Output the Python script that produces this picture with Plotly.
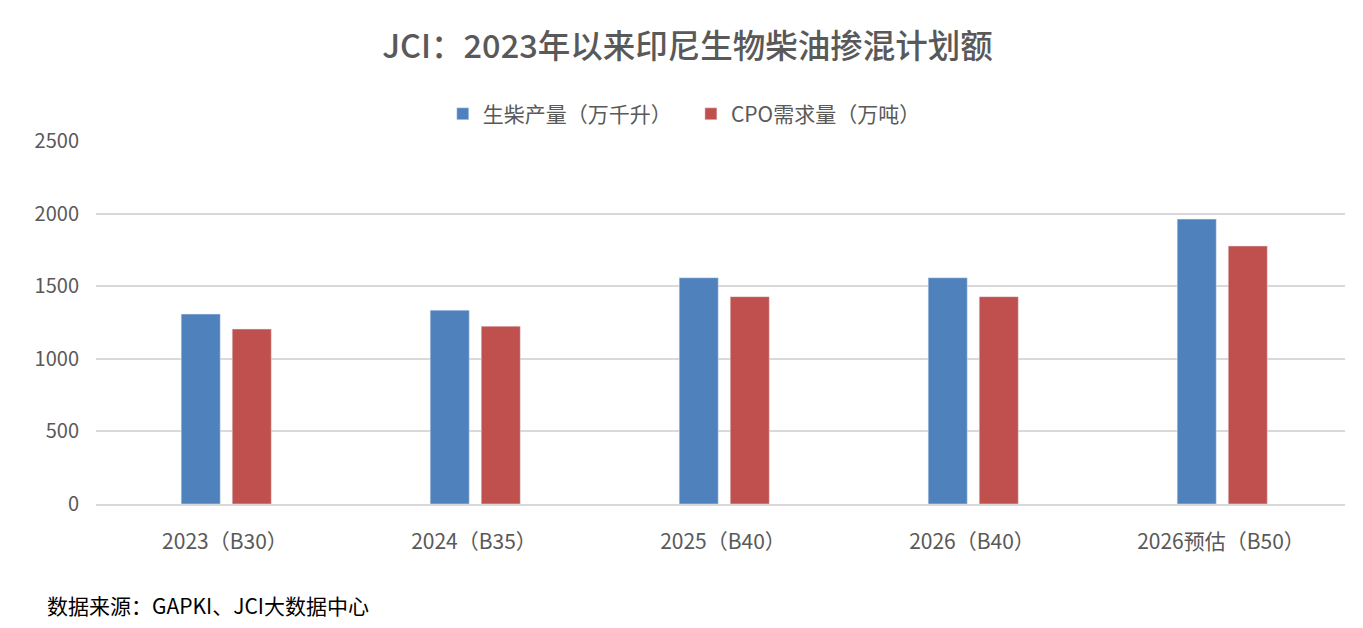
import plotly.graph_objects as go

categories = ["2023（B30）", "2024（B35）", "2025（B40）", "2026（B40）", "2026预估（B50）"]
biodiesel = [1308, 1335, 1558, 1558, 1962]
cpo_demand = [1205, 1225, 1428, 1428, 1777]

FONT = "Noto Sans CJK SC"
GREY = "#595959"
PAD = "\u00a0" * 3

fig = go.Figure()
fig.add_trace(go.Bar(x=categories, y=biodiesel, name="生柴产量（万千升）" + PAD,
                     marker_color="#4F81BD", offset=-0.176, width=0.157))
fig.add_trace(go.Bar(x=categories, y=cpo_demand, name="CPO需求量（万吨）",
                     marker_color="#C0504D", offset=0.029, width=0.157))

# page has an 8px body margin, so margins are shifted by that
fig.update_layout(
    width=1363, height=628,
    margin=dict(l=88, r=26, t=133, b=132),
    paper_bgcolor="white", plot_bgcolor="white",
    font=dict(family=FONT, color=GREY, size=18),
    title=dict(text="JCI：2023年以来印尼生物柴油掺混计划额", x=0.4985, xanchor="center",
               y=1 - 39 / 628, yanchor="middle", font=dict(size=32.5, color=GREY, weight=500)),
    barmode="overlay",
    legend=dict(orientation="h", x=0.471, xanchor="center", y=1.074, yanchor="middle",
                font=dict(size=21, color=GREY), itemwidth=30, traceorder="normal"),
    xaxis=dict(range=[-0.518, 4.498], showline=True, linecolor="#D9D9D9", linewidth=1.5,
               ticks="", tickfont=dict(size=21, color=GREY), ticklabelstandoff=18),
    yaxis=dict(range=[0, 2500], dtick=500, gridcolor="#D9D9D9", gridwidth=1.5,
               zeroline=False, ticks="", tickfont=dict(size=20, color=GREY),
               ticklabelstandoff=16),
)
fig.add_annotation(text="数据来源：GAPKI、JCI大数据中心", xref="paper", yref="paper",
                   x=-0.041, y=-0.278, xanchor="left", yanchor="middle", showarrow=False,
                   font=dict(size=21, color="#000000"))

fig.write_html("out.html")
